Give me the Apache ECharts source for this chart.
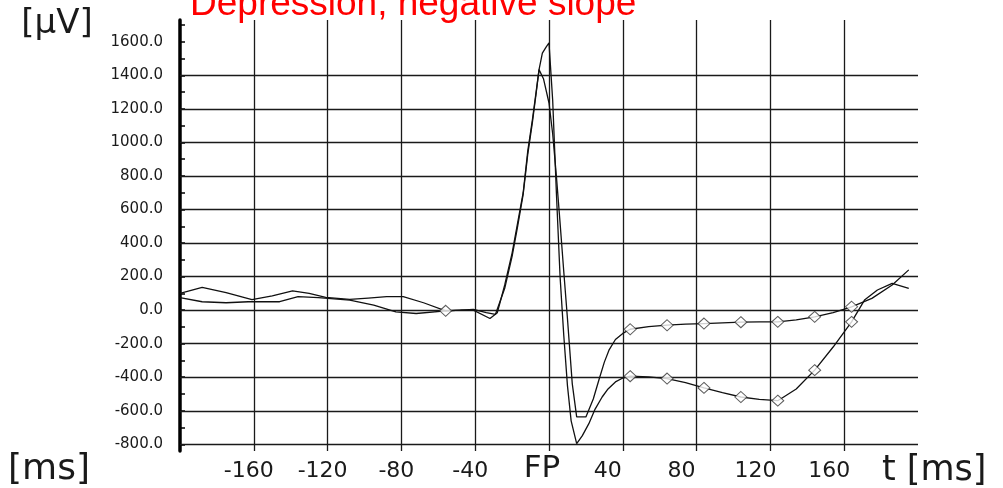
<!DOCTYPE html>
<html><head><meta charset="utf-8">
<script src="https://cdn.jsdelivr.net/npm/echarts@6/dist/echarts.min.js"></script>
<style>html,body{margin:0;padding:0;background:#fff}#c{width:1003px;height:488px}</style>
</head><body><div id="c"></div>
<script>
// ---- data ----
const title = 'Depression, negative slope';
const yUnit = '[μV]';
const xUnitLeft = '[ms]';
const xUnitRight = 't [ms]';

// curve 1: higher peak, deep trough (-800), lower branch afterwards
const times1 = [-200, -188, -175, -161, -150, -139, -130, -121, -108, -98, -88, -79, -68, -56, -48, -41, -32, -28, -24, -20, -17, -14, -11.5, -9, -7, -5.4, -3.6, -1.5, 0, 2, 4, 6, 8, 10, 12, 15, 18, 21.6, 25, 28.8, 32, 36, 40, 44, 54, 64, 74, 84, 94, 104, 114, 124, 134, 144, 154, 164, 171, 178, 186, 195];
const values1 = [100, 136, 105, 62, 85, 115, 100, 76, 64, 72, 80, 80, 44, -4, 0, 0, -50, -15, 150, 340, 520, 700, 950, 1135, 1300, 1434, 1533, 1570, 1593, 1250, 700, 200, -150, -450, -660, -796, -750, -677, -590, -518, -470, -428, -405, -394, -398, -408, -432, -464, -492, -518, -532, -540, -470, -358, -220, -70, 60, 120, 160, 130];

// curve 2: lower peak, shallow trough (-640), upper branch afterwards
const times2 = [-200, -188, -175, -163, -146, -136, -125, -108, -95, -83, -72, -56, -48, -41, -34, -29, -24, -20, -17, -14, -11.5, -9, -7, -5.4, -3, 0, 2, 4, 6, 8, 10, 12.6, 15, 20, 24, 27, 30, 32.5, 36, 40, 44, 54, 64, 74, 84, 94, 104, 114, 124, 134, 144, 154, 164, 175, 186, 195];
const values2 = [74, 50, 44, 50, 50, 80, 75, 60, 30, -10, -20, -4, 0, 5, -15, -25, 130, 320, 500, 690, 930, 1120, 1290, 1434, 1380, 1235, 1050, 800, 520, 230, -50, -438, -637, -637, -530, -418, -310, -239, -175, -139, -114, -98, -90, -84, -80, -76, -72, -70, -70, -58, -40, -15, 20, 70, 150, 240];

// diamond markers
const markerTimes = [44, 64, 84, 104, 124, 144, 164];
const markers1 = [-394, -408, -464, -518, -540, -358, -70];
const markers2 = [-114, -90, -80, -72, -70, -40, 20];
const baselineMarker = [-56, -4];

// axis ticks / labels / grid lines
const yLabelValues = [-800, -600, -400, -200, 0, 200, 400, 600, 800, 1000, 1200, 1400, 1600];
const yTickValues = [-800, -700, -600, -500, -400, -300, -200, -100, 0, 100, 200, 300, 400, 500, 600, 700, 800, 900, 1000, 1100, 1200, 1300, 1400, 1500, 1600, 1700];
const yGridValues = [-800, -600, -400, -200, 0, 200, 400, 600, 800, 1000, 1200, 1400];

// ---- chart ----
const pairs = (t, v) => t.map((x, i) => [x, v[i]]);
const chart = echarts.init(document.getElementById('c'), null, { renderer: 'canvas' });
const ink = '#1a1a1a';
const lineBase = {
  type: 'line', showSymbol: false, symbol: 'none', smooth: false, silent: true,
  lineStyle: { color: '#111', width: 1.3 }, z: 3
};
const xLab = { fontSize: 22, fontFamily: 'DejaVu Sans', color: ink };
const option = {
  animation: false,
  backgroundColor: '#fff',
  grid: { left: 180, right: 85, top: 20, bottom: 37, containLabel: false },
  xAxis: {
    type: 'value', min: -200, max: 200, interval: 40,
    axisLine: { show: false, onZero: false }, axisTick: { show: false },
    splitLine: { show: true, showMinLine: false, showMaxLine: false, lineStyle: { color: ink, width: 1.3 } },
    axisLabel: {
      margin: 9, color: ink, fontFamily: 'DejaVu Sans', fontSize: 22,
      formatter: v => {
        if (Math.abs(v) === 200) return '';
        if (v === 0) return '{fp|FP}';
        return v < 0 ? '{neg|' + v + '}' : '{pos|' + v + '}';
      },
      rich: {
        fp: { fontSize: 31, lineHeight: 18, fontFamily: 'DejaVu Sans', color: ink, padding: [0, 14, 0, 0] },
        neg: Object.assign({ padding: [0, 10, 0, 0] }, xLab),
        pos: Object.assign({ padding: [0, 30, 0, 0] }, xLab)
      }
    }
  },
  yAxis: {
    type: 'value', min: -840, max: 1730,
    axisLine: { show: true, onZero: false, lineStyle: { color: '#000', width: 3.5 } },
    axisTick: { show: true, inside: true, length: 5, customValues: yTickValues, lineStyle: { color: '#000', width: 1.5 } },
    axisLabel: {
      customValues: yLabelValues, formatter: v => v.toFixed(1),
      color: ink, fontFamily: 'DejaVu Sans', fontSize: 15, margin: 17
    },
    splitLine: { show: false }
  },
  graphic: [
    { type: 'text', x: 190, y: 5, style: { text: title, font: '37px "Liberation Sans"', fill: '#ff0000', verticalAlign: 'middle', align: 'left' } },
    { type: 'text', x: 57, y: 24, style: { text: yUnit, font: '34px "DejaVu Sans"', fill: ink, verticalAlign: 'middle', align: 'center' } },
    { type: 'text', x: 49, y: 470, style: { text: xUnitLeft, font: '36px "DejaVu Sans"', fill: ink, verticalAlign: 'middle', align: 'center' } },
    { type: 'text', x: 882, y: 471, style: { text: xUnitRight, font: '35px "DejaVu Sans"', fill: ink, verticalAlign: 'middle', align: 'left' } }
  ],
  series: [
    Object.assign({}, lineBase, {
      name: 'curve1', data: pairs(times1, values1),
      markLine: {
        silent: true, symbol: ['none', 'none'], label: { show: false },
        lineStyle: { color: ink, width: 1.3, type: 'solid' },
        data: yGridValues.map(v => ({ yAxis: v })), z: 1
      }
    }),
    Object.assign({}, lineBase, { name: 'curve2', data: pairs(times2, values2) }),
    {
      type: 'scatter', silent: true, symbol: 'diamond', symbolSize: [12, 11], z: 5,
      itemStyle: { color: '#fff', borderColor: '#333', borderWidth: 1 },
      data: pairs(markerTimes, markers1).concat(pairs(markerTimes, markers2), [baselineMarker])
    }
  ]
};
chart.setOption(option);
</script>
</body></html>
